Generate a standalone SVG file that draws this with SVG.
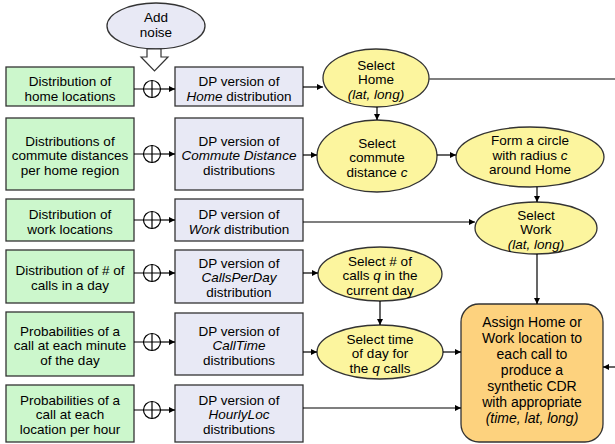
<svg xmlns="http://www.w3.org/2000/svg" width="615" height="444" viewBox="0 0 615 444">
<style>
text{font-family:"Liberation Sans",Arial,sans-serif;font-size:13.5px;fill:#000;text-anchor:middle}
.g{fill:#ccf7cc;stroke:#333;stroke-width:1.3}
.b{fill:#e8e9f5;stroke:#333;stroke-width:1.3}
.y{fill:#fcf59e;stroke:#333;stroke-width:1.3}
.o{fill:#fdd27e;stroke:#333;stroke-width:1.3}
.c{fill:none;stroke:#000;stroke-width:1.2}
.l{fill:none;stroke:#000;stroke-width:1.2}
.big{font-size:14px}
i,.i{font-style:italic}
</style>
<defs>
<marker id="a" markerWidth="7" markerHeight="7" refX="6" refY="3.5" orient="auto" markerUnits="userSpaceOnUse">
<path d="M0,0.5 L6,3.5 L0,6.5 Z" fill="#000"/>
</marker>
</defs>

<g id="noise">
<ellipse cx="156" cy="26" rx="49" ry="23" class="b"/>
<text x="156" y="22">Add</text>
<text x="156" y="37">noise</text>
<path d="M147,49 L161,49 L161,57 L168,57 L154.5,71 L141,57 L147,57 Z" fill="#fff" stroke="#333" stroke-width="1.2"/>
</g>

<g id="green1"><rect x="6" y="67" width="128" height="39" class="g"/><text x="70" y="86">Distribution of</text><text x="70" y="100.5">home locations</text></g>
<g id="green2"><rect x="6" y="118" width="128" height="72" class="g"/><text x="70" y="145.5">Distributions of</text><text x="70" y="160">commute distances</text><text x="70" y="174.5">per home region</text></g>
<g id="green3"><rect x="6" y="199" width="128" height="42" class="g"/><text x="70" y="219">Distribution of</text><text x="70" y="233.5">work locations</text></g>
<g id="green4"><rect x="6" y="250" width="128" height="53" class="g"/><text x="70" y="275">Distribution of # of</text><text x="70" y="289.5">calls in a day</text></g>
<g id="green5"><rect x="6" y="312" width="128" height="64" class="g"/><text x="70" y="335.5">Probabilities of a</text><text x="70" y="350">call at each minute</text><text x="70" y="364.5">of the day</text></g>
<g id="green6"><rect x="6" y="385" width="128" height="57" class="g"/><text x="70" y="404.5">Probabilities of a</text><text x="70" y="419">call at each</text><text x="70" y="433.5">location per hour</text></g>

<g id="blue1"><rect x="175" y="67" width="128" height="39" class="b"/><text x="239" y="86">DP version of</text><text x="239" y="100.5"><tspan class="i">Home</tspan> distribution</text></g>
<g id="blue2"><rect x="175" y="118" width="128" height="72" class="b"/><text x="239" y="145.5">DP version of</text><text x="239" y="160" class="i">Commute Distance</text><text x="239" y="174.5">distributions</text></g>
<g id="blue3"><rect x="175" y="199" width="128" height="42" class="b"/><text x="239" y="219">DP version of</text><text x="239" y="233.5"><tspan class="i">Work</tspan> distribution</text></g>
<g id="blue4"><rect x="175" y="250" width="128" height="53" class="b"/><text x="239" y="267.5">DP version of</text><text x="239" y="282" class="i">CallsPerDay</text><text x="239" y="296.5">distribution</text></g>
<g id="blue5"><rect x="175" y="313" width="128" height="62" class="b"/><text x="239" y="335.5">DP version of</text><text x="239" y="350" class="i">CallTime</text><text x="239" y="364.5">distributions</text></g>
<g id="blue6"><rect x="175" y="385" width="128" height="57" class="b"/><text x="239" y="404.5">DP version of</text><text x="239" y="419" class="i">HourlyLoc</text><text x="239" y="433.5">distributions</text></g>

<g id="selHome"><ellipse cx="376" cy="78" rx="53" ry="29" class="y"/><text x="376" y="69.5">Select</text><text x="376" y="84">Home</text><text x="376" y="98.5" class="i">(lat, long)</text></g>
<g id="selCommute"><ellipse cx="377" cy="156" rx="60" ry="36" class="y"/><text x="377" y="147.5">Select</text><text x="377" y="162">commute</text><text x="377" y="176.5">distance <tspan class="i">c</tspan></text></g>
<g id="formCircle"><ellipse cx="530" cy="157" rx="74" ry="30" class="y"/><text x="530" y="145">Form a circle</text><text x="530" y="159.5">with radius <tspan class="i">c</tspan></text><text x="530" y="174">around Home</text></g>
<g id="selWork"><ellipse cx="536" cy="228" rx="61" ry="26" class="y"/><text x="536" y="219.5">Select</text><text x="536" y="234">Work</text><text x="536" y="248.5" class="i">(lat, long)</text></g>
<g id="selCalls"><ellipse cx="380" cy="274" rx="62" ry="27" class="y"/><text x="380" y="265.5">Select # of</text><text x="380" y="280">calls <tspan class="i">q</tspan> in the</text><text x="380" y="294.5">current day</text></g>
<g id="selTime"><ellipse cx="380" cy="352" rx="63" ry="27" class="y"/><text x="380" y="343.5">Select time</text><text x="380" y="358">of day for</text><text x="380" y="372.5">the <tspan class="i">q</tspan> calls</text></g>
<g id="assign"><rect x="461" y="304" width="142" height="138" rx="18" class="o"/>
<text class="big" x="532" y="327">Assign Home or</text><text class="big" x="532" y="343">Work location to</text><text class="big" x="532" y="359">each call to</text><text class="big" x="532" y="375">produce a</text><text class="big" x="532" y="391">synthetic CDR</text><text class="big" x="532" y="407">with appropriate</text><text class="big i" x="532" y="423">(time, lat, long)</text></g>

<g id="connectors">
<g id="plus">
<circle cx="152" cy="89" r="8.5" class="c"/><path d="M143.5,89 H160.5 M152,80.5 V97.5" class="c"/>
<circle cx="152" cy="154" r="8.5" class="c"/><path d="M143.5,154 H160.5 M152,145.5 V162.5" class="c"/>
<circle cx="152" cy="220" r="8.5" class="c"/><path d="M143.5,220 H160.5 M152,211.5 V228.5" class="c"/>
<circle cx="152" cy="273" r="8.5" class="c"/><path d="M143.5,273 H160.5 M152,264.5 V281.5" class="c"/>
<circle cx="152" cy="342" r="8.5" class="c"/><path d="M143.5,342 H160.5 M152,333.5 V350.5" class="c"/>
<circle cx="152" cy="410" r="8.5" class="c"/><path d="M143.5,410 H160.5 M152,401.5 V418.5" class="c"/>
</g>
<path class="l" d="M134,89 H143.5 M134,154 H143.5 M134,220 H143.5 M134,273 H143.5 M134,342 H143.5 M134,410 H143.5"/>
<path class="l" marker-end="url(#a)" d="M160.5,89 H175"/>
<path class="l" marker-end="url(#a)" d="M160.5,154 H175"/>
<path class="l" marker-end="url(#a)" d="M160.5,220 H175"/>
<path class="l" marker-end="url(#a)" d="M160.5,273 H175"/>
<path class="l" marker-end="url(#a)" d="M160.5,342 H175"/>
<path class="l" marker-end="url(#a)" d="M160.5,410 H175"/>
<path class="l" marker-end="url(#a)" d="M303,87 H323"/>
<path class="l" marker-end="url(#a)" d="M303,155 H317"/>
<path class="l" marker-end="url(#a)" d="M303,222 H475"/>
<path class="l" marker-end="url(#a)" d="M303,273 H318"/>
<path class="l" marker-end="url(#a)" d="M303,352 H317"/>
<path class="l" marker-end="url(#a)" d="M303,408 H461"/>
<path d="M429,79 H615" fill="none" stroke="#555" stroke-width="1.5"/>
<path class="l" marker-end="url(#a)" d="M377,107 V120"/>
<path class="l" marker-end="url(#a)" d="M437,155 H456"/>
<path class="l" marker-end="url(#a)" d="M537,187 V202"/>
<path class="l" marker-end="url(#a)" d="M537,254 V304"/>
<path class="l" marker-end="url(#a)" d="M380,301 V325"/>
<path class="l" marker-end="url(#a)" d="M443,352 H461"/>
<path class="l" marker-end="url(#a)" d="M615,367 H603"/>
</g>
</svg>
